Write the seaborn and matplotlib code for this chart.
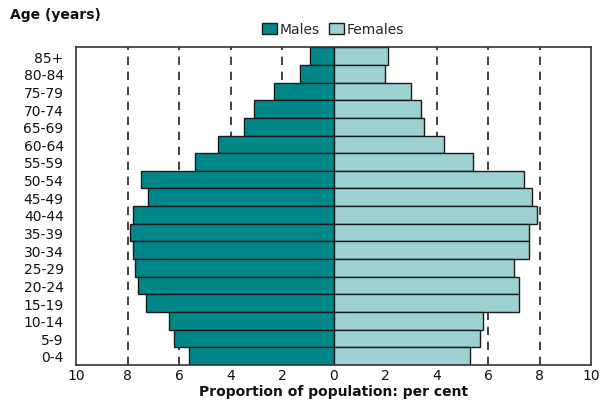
import matplotlib
matplotlib.use("Agg")
import matplotlib.pyplot as plt
import seaborn as sns
import pandas as pd
from matplotlib.patches import Patch

ages = ["85+", "80-84", "75-79", "70-74", "65-69", "60-64", "55-59", "50-54",
        "45-49", "40-44", "35-39", "30-34", "25-29", "20-24", "15-19",
        "10-14", "5-9", "0-4"]
males = [0.9, 1.3, 2.3, 3.1, 3.5, 4.5, 5.4, 7.5, 7.2, 7.8, 7.9, 7.8, 7.7,
         7.6, 7.3, 6.4, 6.2, 5.6]
females = [2.1, 2.0, 3.0, 3.4, 3.5, 4.3, 5.4, 7.4, 7.7, 7.9, 7.6, 7.6, 7.0,
           7.2, 7.2, 5.8, 5.7, 5.3]
xticks = [-10, -8, -6, -4, -2, 0, 2, 4, 6, 8, 10]
xticklabels = ["10", "8", "6", "4", "2", "0", "2", "4", "6", "8", "10"]

male_color = "#00878A"
female_color = "#9DD1D2"

sns.set_theme(style="white")
plt.rcParams["font.family"] = ["DejaVu Sans"]

df = pd.DataFrame({"age": ages,
                   "Males": [-m for m in males],
                   "Females": females})

fig = plt.figure(figsize=(6.0, 4.06), dpi=100)
ax = fig.add_axes([0.127, 0.099, 0.858, 0.782])

for v in [-8, -6, -4, -2, 2, 4, 6, 8]:
    ax.axvline(v, color="#222222", lw=1.2, ls=(0, (5, 4)), zorder=0)

sns.barplot(data=df, y="age", x="Males", order=ages, color=male_color,
            width=1.0, edgecolor="#1a1a1a", linewidth=1.0, ax=ax,
            saturation=1, orient="h", zorder=2)
sns.barplot(data=df, y="age", x="Females", order=ages, color=female_color,
            width=1.0, edgecolor="#1a1a1a", linewidth=1.0, ax=ax,
            saturation=1, orient="h", zorder=2)

ax.set_xlim(-10, 10)
ax.set_ylim(len(ages) - 0.5, -0.5)
ax.set_xticks(xticks)
ax.set_xticklabels(xticklabels)
ax.tick_params(axis="x", length=0, pad=2, labelsize=10, colors="#111111")
ax.tick_params(axis="y", length=0, pad=9, labelsize=10, colors="#111111")
ax.set_ylabel("")
ax.set_xlabel("Proportion of population: per cent", fontsize=10,
              fontweight="bold", labelpad=2, color="#111111")

for s in ax.spines.values():
    s.set_visible(True)
    s.set_color("#333333")
    s.set_linewidth(1.2)

fig.text(0.017, 0.962, "Age (years)", fontsize=10, fontweight="bold",
         ha="left", va="center", color="#111111")

handles = [Patch(facecolor=male_color, edgecolor="#1a1a1a", label="Males"),
           Patch(facecolor=female_color, edgecolor="#1a1a1a", label="Females")]
fig.legend(handles=handles, loc="center", bbox_to_anchor=(0.555, 0.925),
           ncol=2, frameon=False, fontsize=10, handlelength=1.1,
           handleheight=0.9, handletextpad=0.2, columnspacing=0.6,
           borderaxespad=0)

fig.savefig("out.png", dpi=100)
